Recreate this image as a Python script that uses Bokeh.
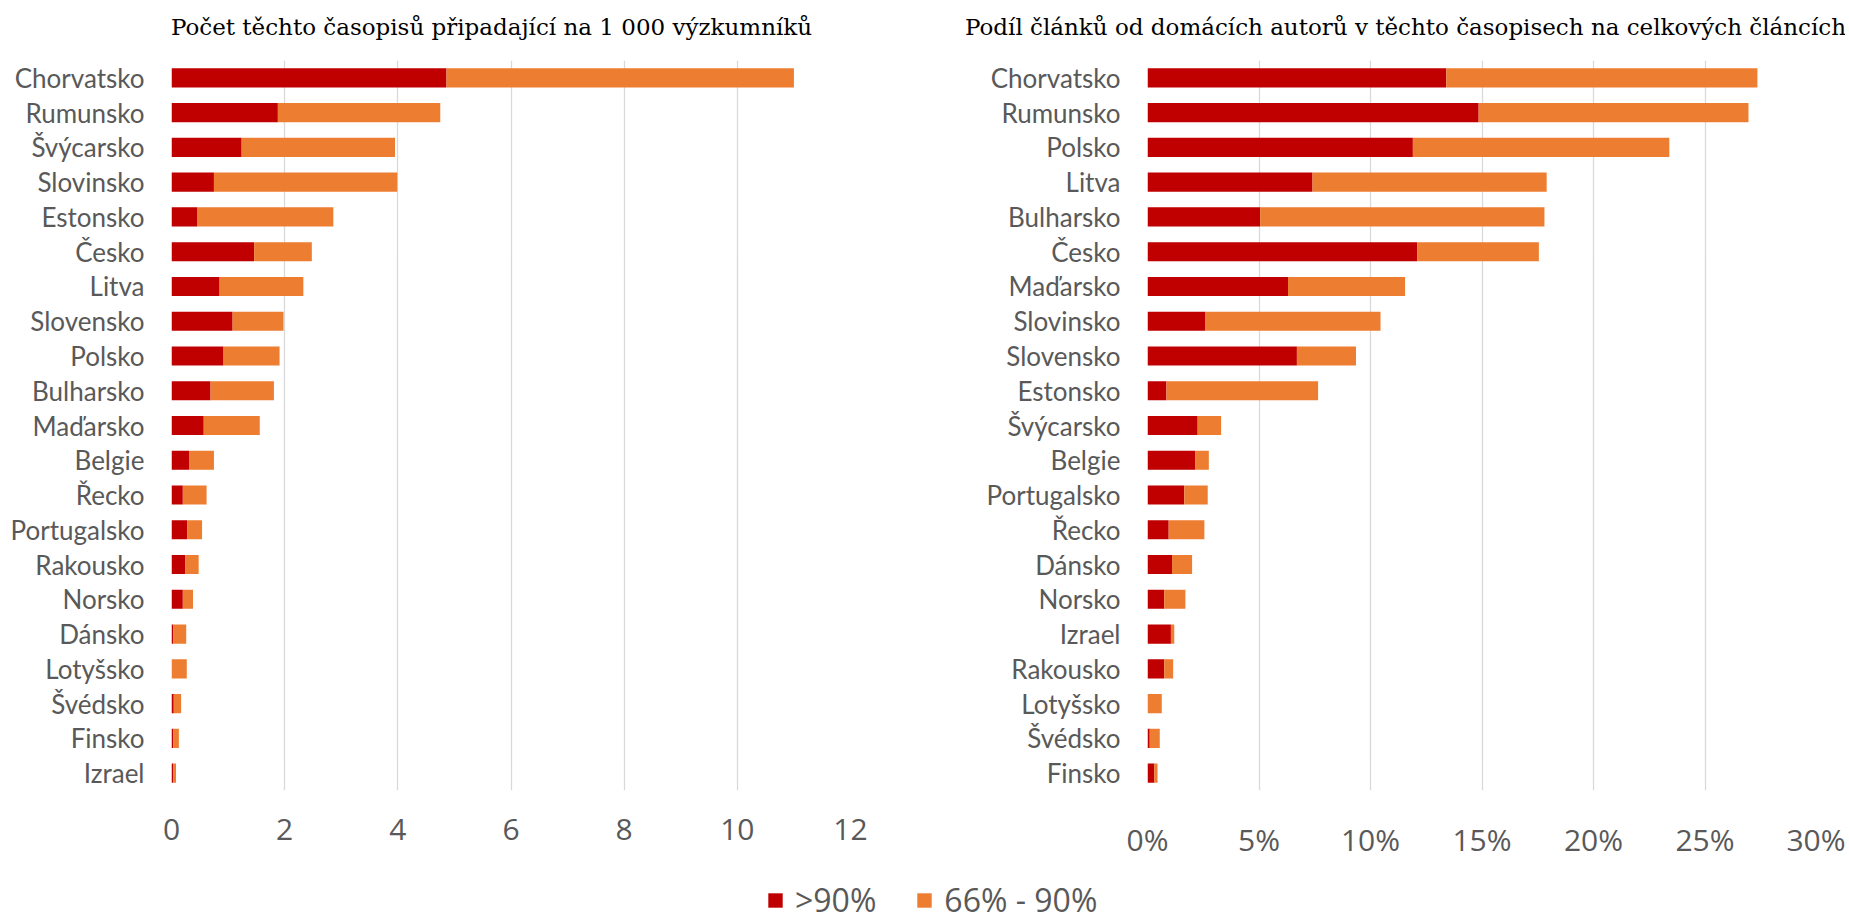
from bokeh.plotting import figure
from bokeh.models import (FactorRange, Range1d, FixedTicker, PrintfTickFormatter,
                          BasicTickFormatter, Legend, LegendItem, ColumnDataSource, Label)
from bokeh.layouts import column, row
from bokeh.core.properties import value
from bokeh.embed import file_html
from bokeh.resources import INLINE

# ---------------- data ----------------
left_countries = ["Chorvatsko", "Rumunsko", "Švýcarsko", "Slovinsko", "Estonsko", "Česko",
                  "Litva", "Slovensko", "Polsko", "Bulharsko", "Maďarsko", "Belgie", "Řecko",
                  "Portugalsko", "Rakousko", "Norsko", "Dánsko", "Lotyšsko", "Švédsko",
                  "Finsko", "Izrael"]
left_red = [4.86, 1.88, 1.24, 0.75, 0.46, 1.46, 0.85, 1.08, 0.92, 0.69, 0.57, 0.31, 0.20,
            0.28, 0.24, 0.20, 0.03, 0.00, 0.04, 0.03, 0.03]
left_orange = [6.14, 2.87, 2.71, 3.24, 2.40, 1.02, 1.48, 0.90, 0.99, 1.12, 0.99, 0.44, 0.42,
               0.26, 0.24, 0.18, 0.23, 0.27, 0.13, 0.10, 0.05]

right_countries = ["Chorvatsko", "Rumunsko", "Polsko", "Litva", "Bulharsko", "Česko",
                   "Maďarsko", "Slovinsko", "Slovensko", "Estonsko", "Švýcarsko", "Belgie",
                   "Portugalsko", "Řecko", "Dánsko", "Norsko", "Izrael", "Rakousko",
                   "Lotyšsko", "Švédsko", "Finsko"]
right_red = [13.4, 14.85, 11.9, 7.4, 5.05, 12.1, 6.3, 2.6, 6.7, 0.85, 2.25, 2.15, 1.65, 0.95,
             1.1, 0.75, 1.05, 0.75, 0.0, 0.1, 0.3]
right_orange = [13.95, 12.1, 11.5, 10.5, 12.75, 5.45, 5.25, 7.85, 2.65, 6.8, 1.05, 0.6, 1.05,
                1.6, 0.9, 0.95, 0.15, 0.4, 0.64, 0.45, 0.15]

left_ticks = [0, 2, 4, 6, 8, 10, 12]
right_ticks = [0, 5, 10, 15, 20, 25, 30]
series_keys = ["red", "orange"]
series_labels = [">90%", "66% - 90%"]
series_colors = ["#C00000", "#ED7D31"]

left_title = "Počet těchto časopisů připadající na 1 000 výzkumníků"
right_title = "Podíl článků od domácích autorů v těchto časopisech na celkových článcích"

GRAY = "#595959"
TITLE_H = 50
MAIN_H = 812
LEG_H = 59
FRAME_TOP = 10
FRAME_H = 745
TOTAL_W = 1845
LEFT_W = 960
RIGHT_W = TOTAL_W - LEFT_W


def panel(countries, red, orange, ticks, formatter, width, mbl, frame_w):
    p = figure(y_range=FactorRange(*reversed(countries)),
               x_range=Range1d(ticks[0], ticks[-1]),
               width=width, height=MAIN_H,
               min_border_left=mbl, min_border_right=width - mbl - frame_w,
               min_border_top=FRAME_TOP, min_border_bottom=MAIN_H - FRAME_TOP - FRAME_H,
               output_backend="svg", toolbar_location=None)
    src = ColumnDataSource(dict(country=countries, red=red, orange=orange))
    p.hbar_stack(series_keys, y="country", height=0.55, source=src,
                 fill_color=series_colors, line_color=None)
    p.xaxis.ticker = FixedTicker(ticks=ticks)
    p.xaxis.formatter = formatter
    p.xgrid.ticker = FixedTicker(ticks=ticks)
    p.xgrid.grid_line_color = "#D9D9D9"
    p.xgrid.grid_line_width = 1.3
    p.ygrid.grid_line_color = None
    for ax in (p.xaxis, p.yaxis):
        ax.axis_line_color = None
        ax.major_tick_line_color = None
        ax.minor_tick_line_color = None
        ax.major_label_text_color = GRAY
    p.xaxis.major_label_text_font = "Open Sans"
    p.xaxis.major_label_text_font_size = "30px"
    p.xaxis.major_label_standoff = 22
    p.yaxis.major_label_text_font = "Lato"
    p.yaxis.major_label_text_font_size = "26px"
    p.yaxis.major_label_standoff = 21
    p.outline_line_color = None
    return p


p1 = panel(left_countries, left_red, left_orange, left_ticks, BasicTickFormatter(),
           LEFT_W, 171, 679)
p2 = panel(right_countries, right_red, right_orange, right_ticks,
           PrintfTickFormatter(format="%d%%"), RIGHT_W, 1147 - LEFT_W, 669)


def blank(h):
    f = figure(width=TOTAL_W, height=h, x_range=Range1d(0, 1), y_range=Range1d(0, 1),
               min_border=0, x_axis_type=None, y_axis_type=None,
               output_backend="svg", toolbar_location=None)
    f.xgrid.grid_line_color = None
    f.ygrid.grid_line_color = None
    f.outline_line_color = None
    return f


top = blank(TITLE_H)
for txt, cx in ((left_title, 491), (right_title, 1405)):
    top.add_layout(Label(x=cx, y=TITLE_H - 26, x_units="screen", y_units="screen", text=txt,
                         text_align="center", text_baseline="middle",
                         text_font="DejaVu Serif", text_font_size="23px",
                         text_color="#000000"))

leg = blank(LEG_H)
rs = [leg.hbar(y=[0], left=[0], right=[0], height=0, fill_color=c, line_color=None)
      for c in series_colors]
legend = Legend(items=[LegendItem(label=value(l), renderers=[r]) for l, r in zip(series_labels, rs)],
                orientation="horizontal", location=(766, 0),
                glyph_width=18, glyph_height=18, label_standoff=11, spacing=39,
                padding=0, margin=0, border_line_color=None, background_fill_alpha=0,
                label_text_font="Open Sans", label_text_font_size="32px",
                label_text_color=GRAY)
leg.add_layout(legend)

layout = column(top, row(p1, p2), leg)
open("out.html", "w").write(file_html(layout, INLINE))
